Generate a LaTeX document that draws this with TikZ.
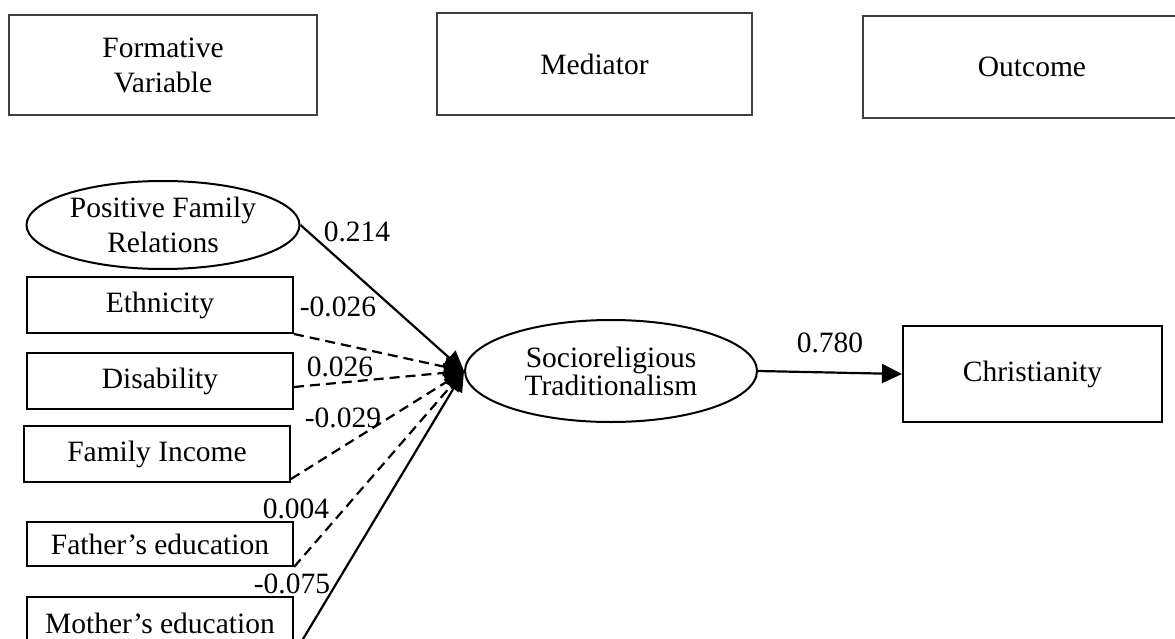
\documentclass[tikz,border=0pt]{standalone}
\usepackage{fontspec}
\setmainfont{Liberation Serif}
\usetikzlibrary{arrows.meta,shapes.geometric,calc}
\begin{document}
\begin{tikzpicture}[x=1pt,y=-1pt,
  every node/.style={font=\fontsize{29.5}{35}\selectfont, inner sep=0pt, align=center},
  hdrbox/.style={draw=black!75, line width=1.3pt, rectangle},
  varbox/.style={draw, line width=2pt, rectangle, minimum width=266pt, minimum height=56pt},
  latent/.style={draw, line width=2pt, ellipse},
  sigpath/.style={line width=2.2pt, -{Triangle[length=20pt,width=19pt]}},
  nspath/.style={sigpath, dash pattern=on 10pt off 6pt}
]
\useasboundingbox (0,0) rectangle (1175,639);
\clip (0,0) rectangle (1175,639);

% header boxes
\node[hdrbox, minimum width=308pt, minimum height=100pt] (form) at (163,65) {Formative\\Variable};
\node[hdrbox, minimum width=315pt, minimum height=102pt] (med) at (594.5,64) {Mediator};
\node[hdrbox, minimum width=338pt, minimum height=102pt] (out) at (1032,67) {Outcome};

% predictors
\node[latent, minimum width=273pt, minimum height=88pt] (pfr) at (163,225) {Positive Family\\Relations};
\node[varbox] (eth) at (160,305) {Ethnicity};
\node[varbox] (dis) at (160,381) {Disability};
\node[varbox] (inc) at (157,454) {Family Income};
\node[varbox, minimum height=44pt] (fat) at (160,544) {Father’s education};
\node[varbox, minimum height=52pt] (mom) at (160,623) {Mother’s education};

% mediator and outcome
\node[latent, minimum width=292pt, minimum height=102pt, font=\fontsize{29.5}{28}\selectfont] (soc) at (611,371) {Socioreligious\\Traditionalism};
\node[varbox, minimum width=259pt, minimum height=96pt] (chr) at (1032.5,374) {Christianity};

% paths
\draw[sigpath] (pfr.east) -- (soc.west);
\draw[nspath] (eth.south east) -- (soc.west);
\draw[nspath] ($(dis.east)+(0,6)$) -- (soc.west);
\draw[nspath] ($(inc.south east)+(0,-4)$) -- (soc.west);
\draw[nspath] (fat.south east) -- (soc.west);
\draw[sigpath] ($(mom.east)+(0,31)$) -- (soc.west);
\draw[sigpath] (soc.east) -- (chr.west);

% coefficients
\node (c1) at (357,232) {0.214};
\node (c2) at (338,307) {-0.026};
\node (c3) at (340,367) {0.026};
\node (c4) at (343,418) {-0.029};
\node (c5) at (296,509) {0.004};
\node (c6) at (292,584) {-0.075};
\node (c7) at (830,343) {0.780};
\end{tikzpicture}
\end{document}
